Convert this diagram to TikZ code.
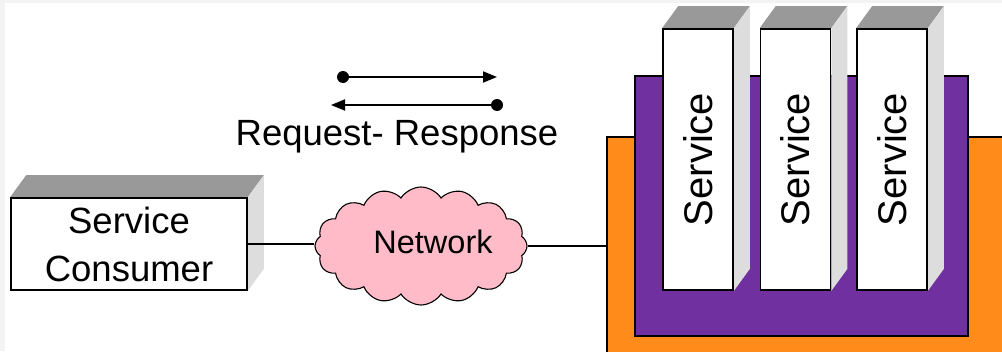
\documentclass[tikz,border=0pt]{standalone}
\usepackage{fontspec}
\setmainfont{Liberation Sans}
\usetikzlibrary{shapes.symbols,arrows.meta}
\pgfdeclarelayer{back}
\pgfdeclarelayer{faces}
\pgfsetlayers{back,faces,main}
\definecolor{platform}{RGB}{255,140,26}
\definecolor{container}{RGB}{112,48,160}
\definecolor{cloudpink}{RGB}{255,188,200}
\definecolor{topgray}{RGB}{153,153,153}
\definecolor{sidegray}{RGB}{221,221,221}
\definecolor{edgegray}{RGB}{243,243,243}
\begin{document}
\begin{tikzpicture}[x=1pt,y=-1pt,
  outline/.style={draw=black, line width=1.7pt},
  frontface/.style={outline, fill=white, inner sep=0pt},
  topface/.style={fill=topgray},
  sideface/.style={fill=sidegray},
  link/.style={draw=black, line width=1.8pt},
  dot/.style={circle, fill=black, inner sep=0pt, minimum size=12pt},
  biglabel/.style={font=\fontsize{36.5}{48}\selectfont},
  svclabel/.style={font=\fontsize{40}{48}\selectfont},
  netcloud/.style={cloud, cloud puffs=16, cloud puff arc=115, aspect=1.8,
    minimum width=212pt, minimum height=118pt, inner sep=0pt,
    fill=cloudpink, draw=black, line width=1.1pt},
]
\useasboundingbox (0,0) rectangle (1002,351);

% backdrop and the two nested platform boxes
\begin{pgfonlayer}{back}
  \fill[white] (0,0) rectangle (1002,351);
  \fill[edgegray] (0,0) rectangle (1002,3);
  \fill[edgegray] (0,0) rectangle (5,351);
  \node[outline, fill=platform, minimum width=403pt, minimum height=223pt,
        inner sep=0pt] (platform) at (808.5,248.5) {};
  \node[outline, fill=container, minimum width=333pt, minimum height=260pt,
        inner sep=0pt] (container) at (801.5,206) {};
\end{pgfonlayer}

% front faces of the blocks
\node[frontface, biglabel, align=center, minimum width=236pt, minimum height=92pt]
  (consumer) at (129,244) {Service\\Consumer};
\node[frontface, svclabel, minimum width=70pt, minimum height=261pt]
  (svc1) at (698,159.5) {\rotatebox{90}{Service}};
\node[frontface, svclabel, minimum width=70pt, minimum height=261pt]
  (svc2) at (795.5,159.5) {\rotatebox{90}{Service}};
\node[frontface, svclabel, minimum width=70pt, minimum height=261pt]
  (svc3) at (892,159.5) {\rotatebox{90}{Service}};

% top and side faces giving the blocks depth
\begin{pgfonlayer}{faces}
  \foreach \n in {consumer,svc1,svc2,svc3}{
    \fill[topface] (\n.north west) -- ++(16,-22)
      -- ([shift={(16,-22)}]\n.north east) -- (\n.north east) -- cycle;
    \fill[sideface] (\n.north east) -- ++(16,-22)
      -- ([shift={(16,-22)}]\n.south east) -- (\n.south east) -- cycle;
  }
\end{pgfonlayer}

% network links
\node[netcloud] (net) at (421,246) {};
\node[font=\fontsize{32.5}{38}\selectfont] (netlabel) at (433,242) {Network};
\draw[link] (consumer.east) -- (consumer.east -| net.west);
\draw[link] (net.east) -- (net.east -| platform.west);

% request / response legend
\node[dot] (reqstart) at (343,77) {};
\coordinate (reqend) at (497,77);
\node[dot] (respstart) at (497,105) {};
\coordinate (respend) at (331,105);
\draw[link, -{Triangle[length=14pt,width=11pt]}] (reqstart) -- (reqend);
\draw[link, -{Triangle[length=14pt,width=11pt]}] (respstart) -- (respend);
\node[biglabel] (rr) at (397,137) {Request- Response};
\end{tikzpicture}
\end{document}
